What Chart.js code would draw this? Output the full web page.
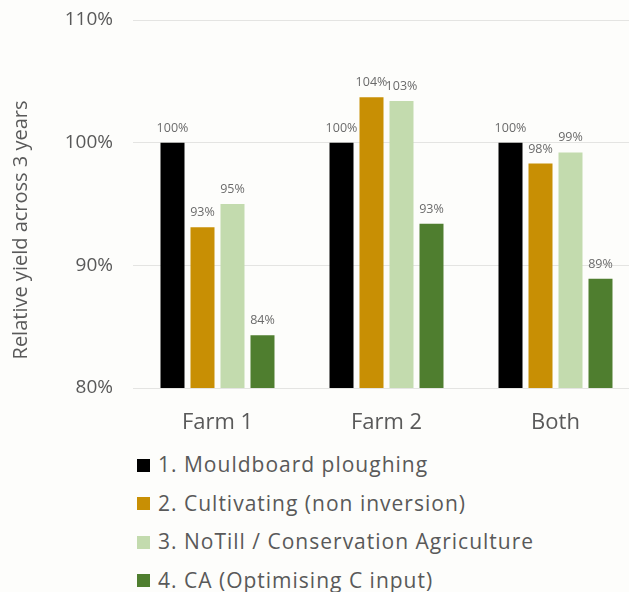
<!DOCTYPE html>
<html>
<head>
<meta charset="utf-8">
<script src="https://cdn.jsdelivr.net/npm/chart.js@4"></script>
<style>
  body { margin: 0; background: #fdfdfb; width: 629px; height: 592px; overflow: hidden; }
  #wrap { position: relative; width: 640px; height: 440px; }
  #legend { margin: 5px 0 0 137px; font-family: "Open Sans", sans-serif; font-size: 21px; letter-spacing: 1px; color: #595959; }
  #legend div { height: 38.5px; display: flex; align-items: center; }
  #legend span { display: inline-block; width: 13px; height: 13px; margin-right: 8px; margin-top: 2px; }
</style>
</head>
<body>
<div id="wrap"><canvas id="chart" width="640" height="440"></canvas></div>
<div id="legend"></div>
<script>
const categories = ["Farm 1", "Farm 2", "Both"];
const seriesNames = [
  "1. Mouldboard ploughing",
  "2. Cultivating (non inversion)",
  "3. NoTill / Conservation Agriculture",
  "4. CA  (Optimising C input)"
];
const mouldboard = [100, 100, 100];
const cultivating = [93.1, 103.7, 98.3];
const notill = [95.0, 103.4, 99.2];
const caOptimised = [84.3, 93.4, 88.9];
const yTicks = [80, 90, 100, 110];
const colors = ["#000000", "#c88f04", "#c3dbae", "#4f7e2f"];

// labels above bars, like the excel ones
const barLabels = {
  id: "barLabels",
  afterDatasetsDraw(chart) {
    const ctx = chart.ctx;
    ctx.save();
    ctx.font = "12.5px 'Open Sans', sans-serif";
    ctx.fillStyle = "#6b6b6b";
    ctx.textAlign = "center";
    ctx.textBaseline = "alphabetic";
    chart.data.datasets.forEach((ds, i) => {
      chart.getDatasetMeta(i).data.forEach((bar, j) => {
        ctx.fillText(Math.round(ds.data[j]) + "%", bar.x, bar.y - 11);
      });
    });
    ctx.restore();
  }
};

const allSeries = [mouldboard, cultivating, notill, caOptimised];
const chart = new Chart(document.getElementById("chart"), {
  type: "bar",
  data: {
    labels: categories,
    datasets: allSeries.map((d, i) => ({
      label: seriesNames[i],
      data: d,
      backgroundColor: colors[i],
      barPercentage: 0.8,
      categoryPercentage: 0.71
    }))
  },
  options: {
    responsive: false,
    animation: false,
    layout: { padding: 0 },
    plugins: { legend: { display: false }, tooltip: { enabled: false } },
    scales: {
      x: {
        grid: { display: false },
        border: { display: false },
        ticks: { font: { family: "Open Sans", size: 22 }, color: "#595959", padding: 14 },
        afterFit(s) { s.height = 52; }
      },
      y: {
        min: 80,
        max: 110,
        afterBuildTicks(s) { s.ticks = yTicks.map(v => ({ value: v })); },
        grid: { color: "#e4e4e2", drawTicks: false },
        border: { display: false },
        ticks: {
          font: { family: "Open Sans", size: 19 },
          color: "#595959",
          padding: 20,
          callback: v => v + "%"
        },
        title: {
          display: true,
          // trailing nbsp pushes the text a bit lower, as in the original
          text: "Relative yield across 3 years" + "\u00a0".repeat(10),
          font: { family: "Open Sans", size: 20 },
          color: "#595959",
          padding: { top: 9, bottom: 0 }
        },
        afterFit(s) { s.width = 133; s.paddingTop = 20; s.paddingBottom = 12; }
      }
    }
  },
  plugins: [barLabels]
});

const legend = document.getElementById("legend");
chart.data.datasets.forEach(ds => {
  const row = document.createElement("div");
  const box = document.createElement("span");
  box.style.background = ds.backgroundColor;
  row.appendChild(box);
  row.appendChild(document.createTextNode(ds.label));
  legend.appendChild(row);
});
</script>
</body>
</html>
